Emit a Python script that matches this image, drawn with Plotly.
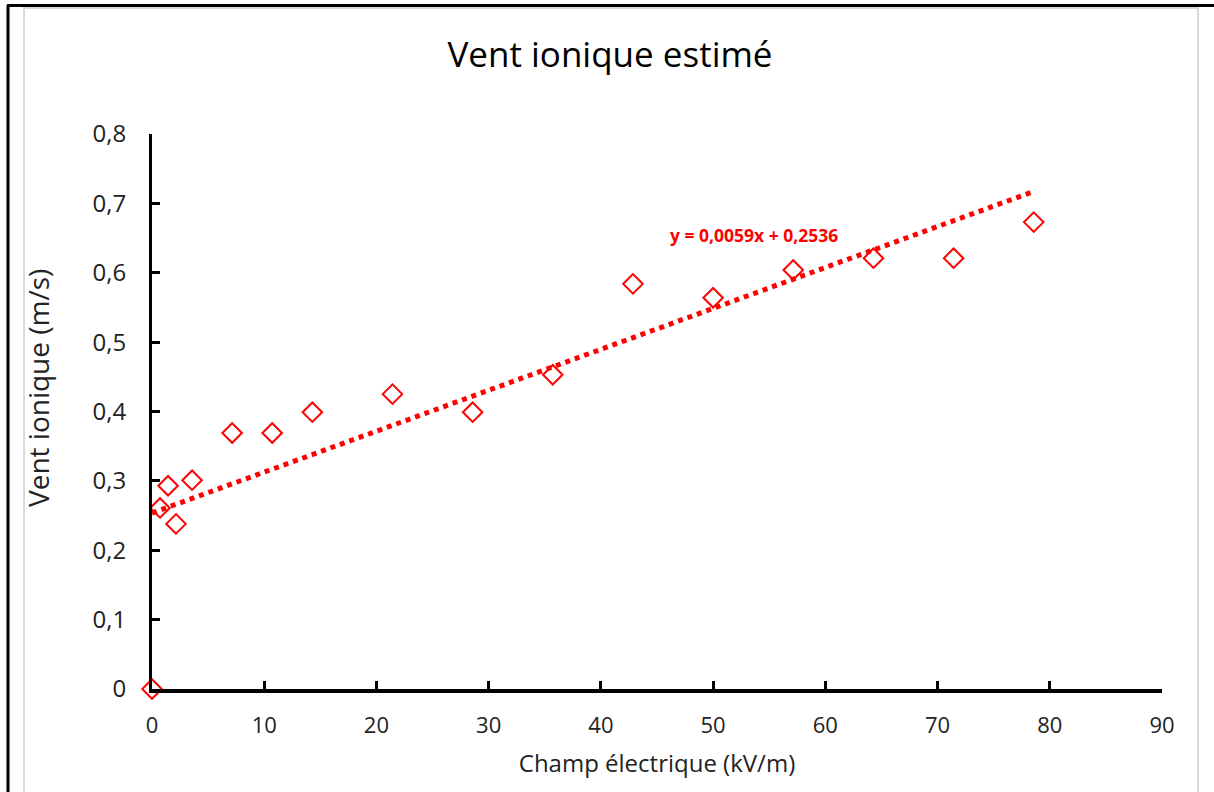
import plotly.graph_objects as go

# Data
champ_kv_m = [0, 0.714, 1.43, 2.14, 3.57, 7.14, 10.71, 14.29, 21.43, 28.57,
              35.71, 42.86, 50.0, 57.14, 64.29, 71.43, 78.57]
vent_m_s = [0.0, 0.261, 0.293, 0.238, 0.301, 0.369, 0.369, 0.399, 0.425, 0.399,
            0.453, 0.584, 0.564, 0.604, 0.621, 0.621, 0.673]
trend_slope = 0.0059
trend_intercept = 0.2536
x_ticks = [0, 10, 20, 30, 40, 50, 60, 70, 80, 90]
y_ticks = [0, 0.1, 0.2, 0.3, 0.4, 0.5, 0.6, 0.7, 0.8]

W, H = 1214, 792
ML, MR, MT, MB = 152, 52, 134, 103
PW, PH = W - ML - MR, H - MT - MB

def px(x):
    return (x - ML) / PW

def py(y):
    return (H - MB - y) / PH

FONT = "Open Sans"
RED = "#ff0000"

trend_x = [min(champ_kv_m), max(champ_kv_m)]
trend_y = [trend_slope * v + trend_intercept for v in trend_x]

fig = go.Figure()
fig.add_trace(go.Scatter(
    x=trend_x, y=trend_y, mode="lines",
    line=dict(color=RED, width=5, dash="5px,5px"),
    showlegend=False, hoverinfo="skip", cliponaxis=False))
fig.add_trace(go.Scatter(
    x=champ_kv_m, y=vent_m_s, mode="markers",
    marker=dict(symbol="diamond-open", size=15, color=RED, line=dict(width=2, color=RED)),
    showlegend=False, cliponaxis=False))

fig.add_annotation(
    x=53.6, y=0.654, xref="x", yref="y",
    text="<b>y = 0,0059x + 0,2536</b>", showarrow=False,
    font=dict(family=FONT, size=17.5, color=RED))

# Y axis title placed like the reference (slightly above plot centre)
fig.add_annotation(
    x=px(38), y=py(388), xref="paper", yref="paper",
    text="Vent ionique (m/s)", textangle=-90, showarrow=False,
    xanchor="center", yanchor="middle",
    font=dict(family=FONT, size=28, color="#222"))

fig.update_layout(
    width=W, height=H,
    margin=dict(l=ML, r=MR, t=MT, b=MB),
    paper_bgcolor="white", plot_bgcolor="white",
    separators=", ",
    title=dict(text="Vent ionique estimé", x=610 / W, xref="container",
               y=1 - 55 / H, yref="container", xanchor="center", yanchor="middle",
               font=dict(family=FONT, size=35, color="black")),
    font=dict(family=FONT, color="black"),
    xaxis=dict(range=[0, 90], tickvals=x_ticks, ticktext=[str(v) for v in x_ticks],
               showgrid=False, zeroline=False, showline=True, linecolor="black",
               linewidth=4, ticks="inside", ticklen=8, tickwidth=3, tickcolor="black",
               ticklabelstandoff=14,
               tickfont=dict(family=FONT, size=22, color="#222"),
               title=dict(text="Champ électrique (kV/m)", standoff=18,
                          font=dict(family=FONT, size=24, color="#222"))),
    yaxis=dict(range=[0, 0.8], tickvals=y_ticks, ticktext=["0"] + [f"{v:.1f}".replace(".", ",") for v in y_ticks[1:]],
               showgrid=False, zeroline=False, showline=True, linecolor="black",
               linewidth=3, ticks="inside", ticklen=8, tickwidth=3, tickcolor="black",
               ticklabelstandoff=18,
               tickfont=dict(family=FONT, size=24, color="#222")),
)

# Frame lines (image border)
shapes = [
    dict(type="line", x0=px(8), x1=px(8), y0=py(5), y1=py(H), line=dict(color="black", width=3)),
    dict(type="line", x0=px(7), x1=px(W), y0=py(5.5), y1=py(5.5), line=dict(color="black", width=3)),
    dict(type="line", x0=px(24), x1=px(24), y0=py(7), y1=py(H), line=dict(color="#d9d9d9", width=2)),
    dict(type="line", x0=px(24), x1=px(1198), y0=py(8), y1=py(8), line=dict(color="#d9d9d9", width=2)),
    dict(type="line", x0=px(1198), x1=px(1198), y0=py(7), y1=py(H), line=dict(color="#d9d9d9", width=2)),
]
for s in shapes:
    s.update(xref="paper", yref="paper", layer="above")
fig.update_layout(shapes=shapes)

fig.write_html("out.html", config={"displayModeBar": False},
               post_script="document.body.style.margin='0';document.body.style.overflow='hidden';")
